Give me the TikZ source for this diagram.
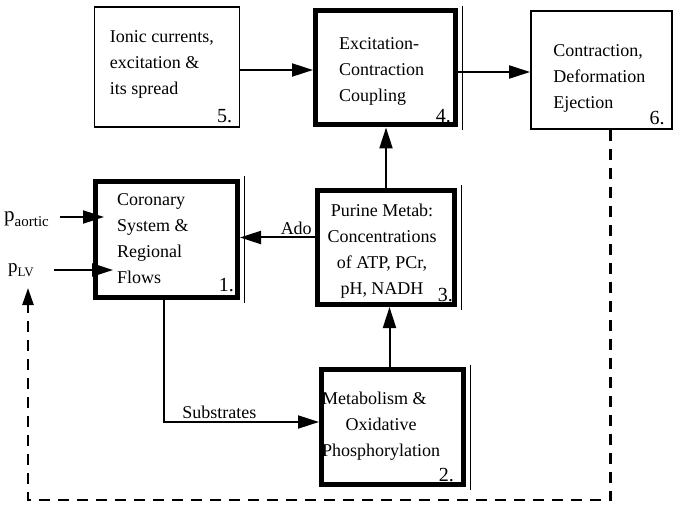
\documentclass[tikz,border=0pt]{standalone}
\usepackage{fontspec}
\setmainfont{Liberation Serif}
\usetikzlibrary{arrows.meta,calc}
\begin{document}
\begin{tikzpicture}[x=1pt,y=-1pt,
  every node/.style={font=\fontsize{18}{26}\selectfont},
  thinbox/.style={draw,line width=1.8pt,inner sep=0pt},
  thickbox/.style={draw,line width=5pt,inner sep=0pt},
  txt/.style={inner sep=0pt,align=left},
  numlabel/.style={anchor=south east,inner sep=0pt,font=\fontsize{20}{20}\selectfont},
  arr/.style={line width=2pt,-{Triangle[length=21pt,width=13pt]}},
  fb/.style={line width=2.4pt,dash pattern=on 11pt off 8pt},
  fbarr/.style={fb,-{Triangle[length=17pt,width=11pt]}}]
\useasboundingbox (0,0) rectangle (681,508);

% boxes
\node[thinbox,minimum width=145pt,minimum height=120pt] (b5) at (167,67) {};
\node[thickbox,minimum width=140pt,minimum height=114pt] (b4) at (385.5,68) {};
\node[thinbox,minimum width=141pt,minimum height=118pt] (b6) at (601.5,70) {};
\node[thickbox,minimum width=142pt,minimum height=116pt] (b1) at (166.5,239.5) {};
\node[thickbox,minimum width=137pt,minimum height=114pt] (b3) at (386,247.5) {};
\node[thickbox,minimum width=142pt,minimum height=115pt] (b2) at (392.5,427) {};

% texts
\node[txt,anchor=west] (t5) at ([xshift=16pt,yshift=3pt]b5.west) {Ionic currents,\\excitation \&\\its spread};
\node[txt,anchor=west] (t4) at ([xshift=26pt,yshift=-3pt]b4.west) {Excitation-\\Contraction\\Coupling};
\node[txt,anchor=west] (t6) at ([xshift=23pt,yshift=-8pt]b6.west) {Contraction,\\Deformation\\Ejection};
\node[txt,anchor=west] (t1) at ([xshift=24pt,yshift=1pt]b1.west) {Coronary\\System \&\\Regional\\Flows};
\node[txt,align=center] (t3) at ([xshift=-4pt,yshift=-4pt]b3.center) {Purine Metab:\\Concentrations\\of ATP, PCr,\\pH, NADH\hspace{0.8em}};
\node[txt,anchor=west] (t2) at ([xshift=3pt,yshift=1pt]b2.west) {Metabolism \&\\\hspace*{1.3em}Oxidative\\Phosphorylation};

% outer thin lines of thick boxes
\foreach \n in {b1,b2,b3,b4}
  \draw[line width=0.8pt] ([xshift=4.3pt,yshift=2.5pt]\n.north east) -- ([xshift=4.3pt,yshift=-2.5pt]\n.south east);

% numbers
\node[numlabel] (n5) at ([xshift=-8pt,yshift=5pt]b5.south east) {5.};
\node[numlabel] (n4) at ([xshift=-7pt,yshift=5pt]b4.south east) {4.};
\node[numlabel] (n6) at ([xshift=-8pt,yshift=5pt]b6.south east) {6.};
\node[numlabel] (n1) at ([xshift=-6pt,yshift=8pt]b1.south east) {1.};
\node[numlabel] (n3) at ([xshift=-4pt,yshift=5pt]b3.south east) {3.};
\node[numlabel] (n2) at ([xshift=-12pt,yshift=5pt]b2.south east) {2.};

% inputs
\node[anchor=west,inner sep=0pt] (pa) at (4,219) {\fontsize{21}{21}\selectfont p\raisebox{-0.45ex}{\fontsize{15}{15}\selectfont aortic}};
\node[anchor=west,inner sep=0pt] (plv) at (8,270) {\fontsize{19}{19}\selectfont p\raisebox{-0.45ex}{\fontsize{13}{13}\selectfont LV}};
\draw[arr] ([xshift=11pt,yshift=2pt]pa.east) -- ([xshift=11pt,yshift=2pt]pa.east -| b1.west);
\draw[arr] ([xshift=20pt,yshift=0pt]plv.east) -- ([xshift=20pt,yshift=0pt]plv.east -| b1.west);

% connectors
\draw[arr] ([yshift=-3pt]b5.east) -- ([yshift=-3pt]b5.east -| b4.west);
\draw[arr] ([yshift=-4pt]b4.east) -- ([yshift=-4pt]b4.east -| b6.west);
\draw[arr] (b3.north) -- (b3.north |- b4.south);
\draw[arr] ([xshift=-3pt]b2.north) -- ([xshift=-3pt]b2.north |- b3.south);
\draw[arr] ([yshift=10pt]b3.west) -- node[above=1pt,pos=0.25,inner sep=1pt] (ado) {Ado} ([yshift=10pt]b3.west -| b1.east);
\draw[arr] ([xshift=-3pt]b1.south) |- node[above,pos=0.68,inner sep=2pt,font=\fontsize{18}{20}\selectfont] (sub) {Substrates} ([yshift=5pt]b2.west);

% feedback
\coordinate (fbbr) at (611,500);
\coordinate (fbbl) at (28,500);
\coordinate (lvtip) at (28,288);
\draw[fbarr] ([xshift=9pt]b6.south) -- ([xshift=9pt]b6.south |- fbbr) -- (fbbl) -- (lvtip);
\end{tikzpicture}
\end{document}
